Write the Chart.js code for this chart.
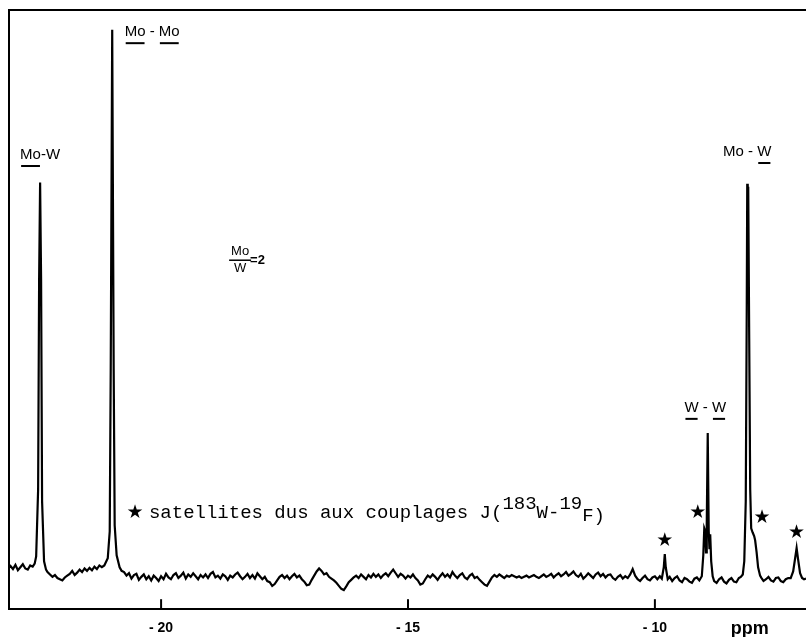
<!DOCTYPE html>
<html>
<head>
<meta charset="utf-8">
<script src="https://cdn.jsdelivr.net/npm/chart.js@4.4.1/dist/chart.umd.min.js"></script>
<style>
  html, body { margin: 0; padding: 0; background: #fff; }
  #wrap { width: 806px; height: 637px; }
</style>
</head>
<body>
<div id="wrap"><canvas id="nmr"></canvas></div>
<script>
// chemical shift (ppm) and intensity (arbitrary units, 0..100)
var shift = [
  -23.08, -23.05, -23.0, -22.95, -22.9, -22.85, -22.8, -22.75, -22.7, -22.65, -22.6, -22.56,
  -22.53, -22.49, -22.47, -22.45, -22.43, -22.41, -22.37,
  -22.33, -22.3, -22.25, -22.2, -22.15, -22.1, -22.05, -22.0, -21.95, -21.9, -21.85, -21.8,
  -21.75, -21.7, -21.65, -21.6, -21.55, -21.5, -21.45, -21.4, -21.35, -21.3, -21.25, -21.2, -21.15,
  -21.08, -21.04, -21.02, -20.99, -20.96, -20.94, -20.9, -20.84, -20.8,
  -20.75, -20.7, -20.65, -20.6, -20.55, -20.5, -20.45, -20.4, -20.35, -20.3,
  -20.25, -20.2, -20.15, -20.1, -20.05, -20.0, -19.95, -19.9, -19.85, -19.8,
  -19.75, -19.7, -19.65, -19.6, -19.55, -19.5, -19.45, -19.4, -19.35, -19.3,
  -19.25, -19.2, -19.15, -19.1, -19.05, -19.0, -18.95, -18.9, -18.85, -18.8,
  -18.75, -18.7, -18.65, -18.6, -18.55, -18.5, -18.45, -18.4, -18.35, -18.3,
  -18.25, -18.2, -18.15, -18.1, -18.05, -18.0, -17.95, -17.9, -17.85, -17.8,
  -17.75, -17.7, -17.65, -17.6, -17.55, -17.5, -17.45, -17.4, -17.35, -17.3,
  -17.25, -17.2, -17.15, -17.1, -17.05, -17.0, -16.95, -16.9, -16.85, -16.8,
  -16.75, -16.7, -16.65, -16.6, -16.55, -16.5, -16.45, -16.4, -16.35, -16.3,
  -16.25, -16.2, -16.15, -16.1, -16.05, -16.0, -15.95, -15.9, -15.85, -15.8,
  -15.75, -15.7, -15.65, -15.6, -15.55, -15.5, -15.45, -15.4, -15.35, -15.3,
  -15.25, -15.2, -15.15, -15.1, -15.05, -15.0, -14.95, -14.9, -14.85, -14.8,
  -14.75, -14.7, -14.65, -14.6, -14.55, -14.5, -14.45, -14.4, -14.35, -14.3,
  -14.25, -14.2, -14.15, -14.1, -14.05, -14.0, -13.95, -13.9, -13.85, -13.8,
  -13.75, -13.7, -13.65, -13.6, -13.55, -13.5, -13.45, -13.4, -13.35, -13.3,
  -13.25, -13.2, -13.15, -13.1, -13.05, -13.0, -12.95, -12.9, -12.85, -12.8,
  -12.75, -12.7, -12.65, -12.6, -12.55, -12.5, -12.45, -12.4, -12.35, -12.3,
  -12.25, -12.2, -12.15, -12.1, -12.05, -12.0, -11.95, -11.9, -11.85, -11.8,
  -11.75, -11.7, -11.65, -11.6, -11.55, -11.5, -11.45, -11.4, -11.35, -11.3,
  -11.25, -11.2, -11.15, -11.1, -11.05, -11.0, -10.95, -10.9, -10.85, -10.8,
  -10.75, -10.7, -10.65, -10.6, -10.55, -10.5, -10.45, -10.4, -10.35, -10.3,
  -10.25, -10.2, -10.15, -10.1, -10.05, -10.0,
  -9.95, -9.9, -9.86, -9.82, -9.8, -9.78, -9.74,
  -9.7, -9.65, -9.6, -9.55, -9.5, -9.45, -9.4, -9.35, -9.3, -9.25, -9.2, -9.15, -9.1,
  -9.05, -9.02, -9.0, -8.98, -8.965, -8.95, -8.93, -8.91, -8.895, -8.88, -8.86, -8.83,
  -8.8, -8.75, -8.7, -8.65, -8.6, -8.55, -8.5, -8.45, -8.4, -8.35, -8.3, -8.26,
  -8.22, -8.19, -8.16, -8.14, -8.13, -8.12, -8.11, -8.09, -8.07, -8.05, -8.02, -7.99, -7.97, -7.94, -7.91, -7.87,
  -7.84, -7.8, -7.75, -7.7, -7.65, -7.6, -7.55, -7.5, -7.45, -7.4, -7.35, -7.3,
  -7.25, -7.2, -7.16, -7.13, -7.1, -7.06, -7.02, -6.98, -6.94
];
var intensity = [
  6.9, 7.2, 6.7, 7.4, 6.5, 7.0, 7.5, 6.8, 6.6, 7.3, 7.1, 7.6,
  8.8, 20, 55, 71.2, 55, 18, 8.0,
  6.6, 6.2, 5.8, 5.4, 5.7, 5.2, 5.0, 4.8, 5.3, 5.6, 5.9, 6.4,
  5.7, 6.1, 6.6, 6.2, 6.8, 6.4, 6.9, 6.5, 7.1, 6.7, 7.3, 7.0, 7.3,
  8.5, 13, 40, 96.7, 40, 14, 9, 7, 6.4,
  6.2, 5.6, 6.0, 5.1, 5.7, 5.9, 4.9, 5.4, 5.8, 5.0,
  5.5, 4.8, 5.6, 5.2, 4.7, 5.5, 5.0, 5.9, 5.3, 5.0,
  5.7, 6.0, 5.2, 5.6, 6.1, 5.1, 5.8, 5.4, 6.0, 5.5,
  5.0, 5.7, 5.3, 5.8, 5.2, 5.9, 6.2, 5.3, 5.6, 5.1,
  5.8, 5.5, 4.9, 5.6, 5.3, 5.8, 6.1, 5.5, 5.0, 5.4,
  5.9, 5.2, 5.7, 5.1, 6.0, 5.5, 5.0, 5.4, 4.7, 4.5,
  3.9, 4.2, 4.8, 5.4, 5.7, 5.2, 5.6, 5.0, 5.5, 5.9,
  5.3, 5.6, 5.0, 4.6, 4.0, 4.1, 4.9, 5.6, 6.3, 6.8,
  6.4, 5.8, 6.0, 5.4, 5.1, 4.8, 4.4, 3.9, 3.4, 3.2,
  3.8, 4.5, 4.9, 5.3, 5.6, 5.2, 5.8, 5.4, 5.0, 5.7,
  5.3, 5.9, 5.4, 5.8, 5.2, 5.7, 6.0, 5.5, 6.1, 6.6,
  6.0, 5.4, 5.9, 5.6, 5.1, 5.6, 5.3, 5.8, 5.2, 4.8,
  4.1, 4.3, 5.0, 5.6, 5.3, 5.8, 5.4, 4.9, 5.5, 6.0,
  5.4, 5.8, 5.3, 6.2, 5.6, 5.2, 5.7, 6.0, 5.3, 5.0,
  5.6, 5.9, 5.2, 5.4, 4.9, 4.5, 4.1, 3.9, 4.6, 5.3,
  5.7, 5.4, 5.8, 5.5, 5.2, 5.6, 5.4, 5.7, 5.5, 5.3,
  5.5, 5.2, 5.4, 5.6, 5.3, 5.5, 5.7, 5.4, 5.2, 5.5,
  5.8, 5.4, 5.6, 5.9, 5.3, 5.7, 6.0, 5.5, 5.8, 6.2,
  5.6, 5.9, 6.3, 5.7, 5.4, 5.9, 5.1, 5.5, 6.0, 5.6,
  5.2, 5.8, 6.1, 5.5, 5.9, 5.3, 5.7, 5.8, 5.2, 4.9,
  5.4, 5.7, 5.1, 5.5, 5.2, 5.8, 6.7, 5.6, 5.0, 4.7,
  5.2, 5.6, 5.0, 4.8, 5.3, 5.5,
  5.0, 5.5, 5.1, 7.0, 9.2, 7.0, 5.0,
  5.4, 4.7, 5.2, 5.5, 4.8, 4.5, 5.2, 5.0, 4.6, 4.4, 5.1, 5.3, 4.8,
  5.5, 9, 13.5, 13.0, 9.5, 14, 29.4, 13, 10, 12.5, 8, 5.5,
  4.7, 4.4, 5.0, 5.3, 4.6, 4.3, 4.9, 5.2, 4.6, 4.5, 5.2, 5.4,
  5.8, 8, 18, 50, 71, 66, 70.5, 45, 20, 13.5, 12.8, 12.2, 11.5, 9.5, 7.0, 5.6,
  5.2, 4.7, 5.0, 5.4, 4.8, 4.6, 5.2, 5.3, 4.7, 4.5, 5.0, 5.2,
  5.2, 6.3, 8.5, 10.2, 8.3, 6.0, 5.2, 5.0, 5.1
];
var tickValues = [-20, -15, -10];
var satellites = [-9.80, -9.13, -7.83, -7.13];
var satelliteHeights = [11.4, 16.1, 15.2, 12.7];

var points = shift.map(function (s, i) { return { x: s, y: intensity[i] }; });

var sans = '"Liberation Sans", Arial, sans-serif';
var mono = '"Liberation Mono", "Courier New", monospace';

// text on the plot: position in data units, underlined character ranges
var notes = [
  { t: 'Mo-W', x: -22.45, y: 75.8, u: [[0, 2]] },
  { t: 'Mo - Mo', x: -20.18, y: 96.3, u: [[0, 2], [5, 7]] },
  { t: 'W - W', x: -8.98, y: 33.6, u: [[0, 1], [4, 5]] },
  { t: 'Mo - W', x: -8.13, y: 76.3, u: [[5, 6]] }
];

var decor = {
  id: 'decor',
  afterDraw: function (chart) {
    var c = chart.ctx, a = chart.chartArea;
    var xs = chart.scales.x, ys = chart.scales.y;
    c.save();
    c.strokeStyle = '#000';
    c.fillStyle = '#000';
    c.lineWidth = 2;
    // frame
    c.beginPath();
    c.moveTo(a.right, a.top); c.lineTo(a.left, a.top); c.lineTo(a.left, a.bottom);
    c.stroke();
    // inward ticks
    tickValues.forEach(function (v) {
      var px = xs.getPixelForValue(v);
      c.beginPath(); c.moveTo(px, a.bottom); c.lineTo(px, a.bottom - 10); c.stroke();
    });
    // peak labels
    c.font = '15px ' + sans;
    c.textBaseline = 'middle';
    c.textAlign = 'left';
    notes.forEach(function (n) {
      var w = c.measureText(n.t).width;
      var x0 = xs.getPixelForValue(n.x) - w / 2;
      var y0 = ys.getPixelForValue(n.y);
      c.fillText(n.t, x0, y0);
      n.u.forEach(function (r) {
        var s = x0 + c.measureText(n.t.slice(0, r[0])).width;
        var e = x0 + c.measureText(n.t.slice(0, r[1])).width;
        c.fillRect(s + 1, y0 + 10, e - s - 2, 2);
      });
    });
    // Mo/W = 2
    var fx = xs.getPixelForValue(-18.4), fy = ys.getPixelForValue(58.2);
    c.font = '13px ' + sans;
    c.textAlign = 'center';
    c.fillText('Mo', fx, fy - 9);
    c.fillRect(fx - 11, fy - 1, 22, 1.5);
    c.fillText('W', fx, fy + 8);
    c.font = 'bold 13px ' + sans;
    c.textAlign = 'left';
    c.fillText('=2', fx + 10, fy);
    // stars over satellites
    c.font = '19px "DejaVu Sans", sans-serif';
    c.textAlign = 'center';
    satellites.forEach(function (s, i) {
      c.fillText('\u2605', xs.getPixelForValue(s), ys.getPixelForValue(satelliteHeights[i]));
    });
    // legend line
    var lx = xs.getPixelForValue(-20.53), ly = ys.getPixelForValue(16.1);
    c.fillText('\u2605', lx, ly);
    c.font = '19px ' + mono;
    c.textAlign = 'left';
    var tx = lx + 14;
    var parts = [['satellites dus aux couplages J(', 0], ['183', -9], ['W-', 0], ['19', -9], ['F)', 3]];
    parts.forEach(function (p) {
      c.fillText(p[0], tx, ly + p[1]);
      tx += c.measureText(p[0]).width;
    });
    // ppm unit
    c.font = 'bold 18px ' + sans;
    c.textAlign = 'center';
    c.fillText('ppm', xs.getPixelForValue(-8.08), a.bottom + 20);
    c.restore();
  }
};

new Chart(document.getElementById('nmr'), {
  type: 'line',
  data: {
    datasets: [{
      data: points,
      borderColor: '#000',
      borderWidth: 2.2,
      pointRadius: 0,
      tension: 0,
      fill: false
    }]
  },
  options: {
    responsive: true,
    maintainAspectRatio: false,
    animation: false,
    layout: { padding: { left: 9, top: 10, right: 0, bottom: 0 } },
    plugins: { legend: { display: false }, tooltip: { enabled: false } },
    scales: {
      x: {
        type: 'linear',
        min: -23.08,
        max: -6.94,
        grid: { display: false, drawTicks: true, tickLength: 11 },
        border: { display: true, color: '#000', width: 2 },
        ticks: {
          stepSize: 5,
          includeBounds: false,
          padding: 0,
          color: '#000',
          font: { family: sans, size: 14, weight: 'bold' },
          callback: function (v) { return '- ' + Math.abs(v); }
        }
      },
      y: {
        display: false,
        min: 0,
        max: 100
      }
    }
  },
  plugins: [decor]
});
</script>
</body>
</html>
